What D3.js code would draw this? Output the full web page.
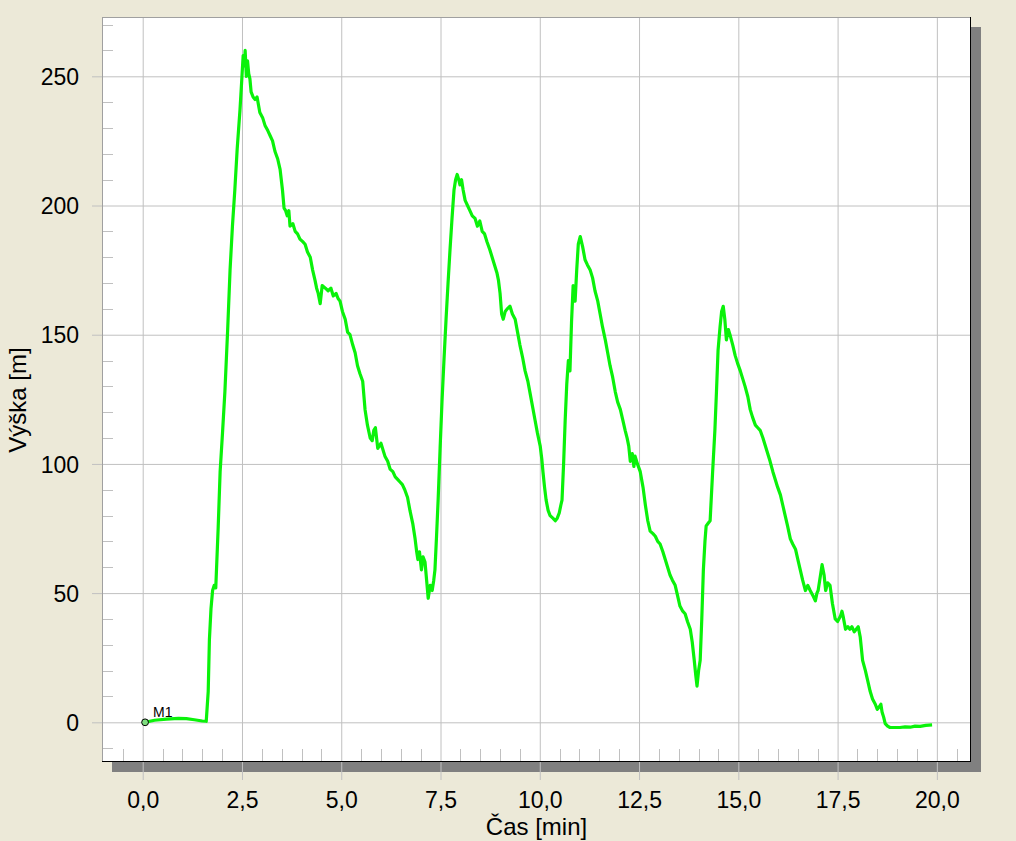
<!DOCTYPE html>
<html>
<head>
<meta charset="utf-8">
<script src="https://cdn.jsdelivr.net/npm/d3@7"></script>
<style>
  html, body { margin: 0; padding: 0; background: #ECE9D8; }
  svg { display: block; }
  text { font-family: Arial, "Liberation Sans", sans-serif; fill: #000; }
</style>
</head>
<body>
<svg id="chart" width="1016" height="841"></svg>
<script>
// ---- data ----
const timeMin = [0.06,0.3,0.6,0.9,1.1,1.3,1.5,1.6,1.65,1.68,1.72,1.76,1.8,1.84,1.9,1.95,2.01,2.07,2.14,2.2,2.26,2.32,2.38,2.45,2.5,2.53,2.56,2.58,2.61,2.64,2.67,2.7,2.73,2.78,2.83,2.88,2.95,3.02,3.08,3.15,3.21,3.27,3.33,3.4,3.46,3.52,3.56,3.6,3.64,3.68,3.71,3.78,3.84,3.9,3.96,4.03,4.09,4.15,4.22,4.28,4.34,4.38,4.42,4.47,4.52,4.6,4.67,4.74,4.8,4.87,4.92,4.97,5.03,5.1,5.16,5.22,5.29,5.35,5.41,5.47,5.54,5.6,5.66,5.73,5.78,5.82,5.86,5.92,6.0,6.1,6.17,6.23,6.3,6.36,6.42,6.48,6.54,6.6,6.67,6.73,6.8,6.86,6.9,6.93,6.97,7.02,7.06,7.11,7.15,7.19,7.24,7.29,7.33,7.36,7.4,7.44,7.49,7.54,7.59,7.64,7.69,7.74,7.79,7.84,7.88,7.92,7.96,7.99,8.03,8.07,8.12,8.18,8.24,8.3,8.37,8.43,8.49,8.55,8.61,8.67,8.74,8.8,8.86,8.92,8.96,9.0,9.04,9.08,9.13,9.18,9.25,9.31,9.38,9.44,9.5,9.57,9.63,9.7,9.76,9.82,9.88,9.94,10.01,10.05,10.08,10.12,10.16,10.21,10.26,10.33,10.39,10.44,10.49,10.53,10.56,10.6,10.64,10.68,10.72,10.76,10.8,10.84,10.89,10.93,10.97,11.02,11.08,11.14,11.2,11.27,11.33,11.39,11.46,11.52,11.58,11.65,11.71,11.77,11.83,11.9,11.96,12.03,12.09,12.15,12.2,12.24,12.28,12.33,12.37,12.4,12.46,12.53,12.6,12.66,12.72,12.78,12.85,12.91,12.97,13.03,13.1,13.16,13.22,13.28,13.34,13.41,13.47,13.53,13.6,13.66,13.72,13.79,13.84,13.89,13.93,13.96,14.0,14.04,14.08,14.12,14.16,14.19,14.24,14.29,14.35,14.41,14.45,14.49,14.54,14.58,14.62,14.66,14.7,14.75,14.79,14.86,14.92,14.98,15.05,15.11,15.17,15.24,15.3,15.36,15.43,15.49,15.55,15.62,15.68,15.74,15.8,15.87,15.93,15.99,16.06,16.12,16.18,16.24,16.31,16.37,16.44,16.5,16.56,16.62,16.69,16.75,16.81,16.88,16.94,16.98,17.01,17.05,17.11,17.16,17.2,17.25,17.31,17.37,17.44,17.5,17.57,17.61,17.64,17.7,17.76,17.81,17.86,17.92,17.97,18.02,18.07,18.13,18.2,18.26,18.32,18.38,18.45,18.5,18.55,18.59,18.62,18.66,18.7,18.76,18.82,18.95,19.07,19.2,19.33,19.45,19.58,19.72,19.88];
const heightM = [0,0.8,1.2,1.5,1.4,1.0,0.5,0.4,12,32,44,51,53,52,75,97,112,128,152,175,192,206,222,237,250,258,254,260,250,256,251,249,244,242,241,242,236,234,231,229,227,225,221,218,214,206,199,198,196,198,192,193,190,189,187,186,185,182,180,175,171,168,166,162,169,168,167,168,165,166,164,163,159,156,151,150,146,143,138,135,132,121,115,110,109,113,114,106,108,103,101,98,97,95,94,93,92,90,87,82,77,71,66,63,66,59,64,62,55,48,53,51,55,59,72,86,106,125,141,156,170,183,195,206,210,212,210,208,210,206,202,200,198,196,195,192,194,190,189,186,183,180,177,174,171,166,158,156,159,160,161,158,156,151,146,141,136,132,127,122,117,112,107,102,97,91,86,82,80,79,78,79,81,84,86,100,117,131,140,136,155,169,163,175,185,188,184,179,177,175,172,167,163,158,153,148,143,138,134,128,124,121,117,113,110,107,101,104,99,103,100,97,91,84,78,74,73,72,70,69,66,63,60,57,55,53,49,45,43,42,39,36,31,24,18,14,20,24,40,59,70,76,77,78,96,113,128,144,153,159,161,156,148,152,150,146,142,139,136,133,130,126,121,118,115,114,113,110,107,104,101,97,94,91,88,84,80,76,71,69,67,63,59,55,51,53,51,49,47,50,51,55,61,57,51,54,53,46,40,39,41,43,41,36,37,36,37,35,36,37,33,24,20,16,12,9,7,5,6,7,4,2,-0.5,-1.5,-2,-2,-2,-1.8,-1.9,-1.5,-1.6,-1.2,-1];

const xMajorTicks = [0,2.5,5,7.5,10,12.5,15,17.5,20];
const yMajorTicks = [0,50,100,150,200,250];
const xTitle = "Čas [min]";
const yTitle = "Výška [m]";
const markerLabel = "M1";

// ---- layout ----
const plot = {left: 102, top: 17, right: 971, bottom: 762};
const svg = d3.select("#chart");

const x = d3.scaleLinear().domain([-1.025, 20.86]).range([plot.left, plot.right]);
const y = d3.scaleLinear().domain([-15.36, 272.95]).range([plot.bottom, plot.top]);

// background
svg.append("rect").attr("x",0).attr("y",0).attr("width",1016).attr("height",841).attr("fill","#ECE9D8");
// shadow
svg.append("rect").attr("x",plot.left+10).attr("y",plot.top+10)
  .attr("width",plot.right-plot.left).attr("height",plot.bottom-plot.top).attr("fill","#808080");
// plot area
svg.append("rect").attr("x",plot.left).attr("y",plot.top)
  .attr("width",plot.right-plot.left).attr("height",plot.bottom-plot.top).attr("fill","#ffffff");

const gridColor = "#c0c0c0";

// minor ticks
const xMinor = d3.range(-1, 21, 0.5).filter(v => Math.abs(v/2.5 - Math.round(v/2.5)) > 1e-6 && x(v) > plot.left+2 && x(v) < plot.right-2);
svg.append("g").selectAll("line").data(xMinor).join("line")
  .attr("x1", d => Math.round(x(d))+0.5).attr("x2", d => Math.round(x(d))+0.5)
  .attr("y1", plot.bottom-13).attr("y2", plot.bottom)
  .attr("stroke", gridColor).attr("stroke-width",1);

const yMinor = d3.range(-10, 280, 10).filter(v => v % 50 !== 0 && y(v) > plot.top+2 && y(v) < plot.bottom-2);
svg.append("g").selectAll("line").data(yMinor).join("line")
  .attr("x1", plot.left).attr("x2", plot.left+11)
  .attr("y1", d => Math.round(y(d))+0.5).attr("y2", d => Math.round(y(d))+0.5)
  .attr("stroke", gridColor).attr("stroke-width",1);

// major grid lines with ticks via d3 axes
const xAxis = d3.axisBottom(x).tickValues(xMajorTicks)
  .tickSize(-(plot.bottom - plot.top) - 18)
  .tickFormat(d => d3.format(".1f")(d).replace(".", ","));
const gx = svg.append("g").attr("transform", `translate(0,${plot.bottom+18})`).call(xAxis);
gx.select(".domain").remove();
gx.selectAll(".tick line").attr("stroke", gridColor);
gx.selectAll(".tick text").attr("font-size", 23).attr("y", 0).attr("dy", "1.22em")
  .style("font-family", "Arial, 'Liberation Sans', sans-serif").attr("fill", "#000");

const yAxis = d3.axisLeft(y).tickValues(yMajorTicks)
  .tickSize(-(plot.right - plot.left) - 10)
  .tickFormat(d3.format("d"));
const gy = svg.append("g").attr("transform", `translate(${plot.left-10},0)`).call(yAxis);
gy.select(".domain").remove();
gy.selectAll(".tick line").attr("stroke", gridColor);
gy.selectAll(".tick text").attr("font-size", 23).attr("x", -13).attr("dy", "0.36em")
  .style("font-family", "Arial, 'Liberation Sans', sans-serif").attr("fill", "#000");

// borders
svg.append("line").attr("x1",plot.left+0.5).attr("x2",plot.left+0.5).attr("y1",plot.top).attr("y2",plot.bottom).attr("stroke","#a0a0a0");
svg.append("line").attr("x1",plot.left).attr("x2",plot.right).attr("y1",plot.top+0.5).attr("y2",plot.top+0.5).attr("stroke","#a0a0a0");
svg.append("line").attr("x1",plot.right-0.5).attr("x2",plot.right-0.5).attr("y1",plot.top).attr("y2",plot.bottom).attr("stroke","#000");
svg.append("line").attr("x1",plot.left).attr("x2",plot.right).attr("y1",plot.bottom-0.5).attr("y2",plot.bottom-0.5).attr("stroke","#000");

// clip
svg.append("clipPath").attr("id","clip").append("rect")
  .attr("x",plot.left+1).attr("y",plot.top+1).attr("width",plot.right-plot.left-2).attr("height",plot.bottom-plot.top-2);

// series
const data = timeMin.map((t,i) => ({t, h: heightM[i]}));
const line = d3.line().x(d => x(d.t)).y(d => y(d.h));
svg.append("path").datum(data).attr("clip-path","url(#clip)")
  .attr("d", line).attr("fill","none").attr("stroke","#0af20a")
  .attr("stroke-width",3.2).attr("stroke-linejoin","round");

// marker M1
svg.append("circle").attr("cx", x(0.06)).attr("cy", y(0)).attr("r",3.4)
  .attr("fill","#7fdc7f").attr("stroke","#000").attr("stroke-width",1);
svg.append("text").attr("x", x(0.06)+8).attr("y", y(0)-5).attr("font-size",14).text(markerLabel);

// titles
svg.append("text").attr("x", (plot.left+plot.right)/2).attr("y", 835)
  .attr("text-anchor","middle").attr("font-size",24).text(xTitle);
svg.append("text").attr("transform", `translate(26,400) rotate(-90)`)
  .attr("text-anchor","middle").attr("font-size",24).text(yTitle);
</script>
</body>
</html>
